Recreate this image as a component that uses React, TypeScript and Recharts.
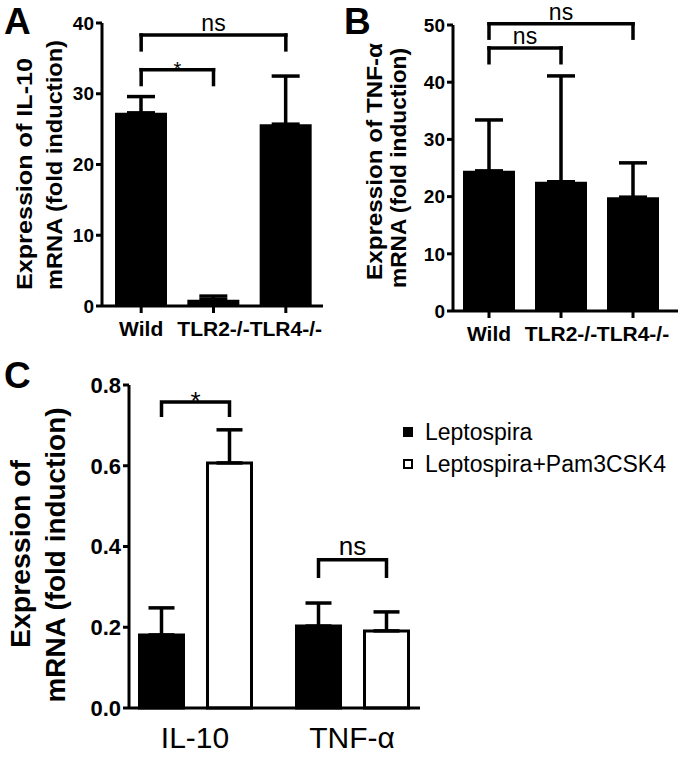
import React from "react";
import {
  BarChart,
  Bar,
  XAxis,
  YAxis,
  ErrorBar,
  ReferenceLine,
  Legend,
  Rectangle,
} from "recharts";

const FONT = "'Liberation Sans', Arial, Helvetica, sans-serif";

// panel A - IL-10
const genotypes = ["Wild", "TLR2-/-", "TLR4-/-"];
const il10Mean = [27.3, 0.9, 25.7];
const il10Err = [2.3, 0.5, 6.8];
const il10Ticks = [0, 10, 20, 30, 40];

// panel B - TNF-a
const tnfMean = [24.5, 22.6, 19.9];
const tnfErr = [8.9, 18.5, 6.0];
const tnfTicks = [0, 10, 20, 30, 40, 50];

// panel C - Leptospira vs Leptospira+Pam3CSK4
const cytokines = ["IL-10", "TNF-α"];
const leptoMean = [0.181, 0.203];
const leptoErr = [0.067, 0.057];
const pamMean = [0.607, 0.191];
const pamErr = [0.082, 0.047];
const ratioTicks = [0, 0.2, 0.4, 0.6, 0.8];

type Bracket = { from: string; to: string; top: number; leg: number; text: string };

const bracketsA: Bracket[] = [
  { from: "Wild", to: "TLR4-/-", top: 38.3, leg: 36.2, text: "ns" },
  { from: "Wild", to: "TLR2-/-", top: 33.4, leg: 31.3, text: "*" },
];
const bracketsB: Bracket[] = [
  { from: "Wild", to: "TLR4-/-", top: 50.2, leg: 47.7, text: "ns" },
  { from: "Wild", to: "TLR2-/-", top: 46.0, leg: 43.4, text: "ns" },
];
// C: bracket joins the two bars inside each cytokine group
const bracketsC = [
  { top: 0.758, leg: 0.721, text: "*" },
  { top: 0.367, leg: 0.322, text: "ns" },
];

const dataA = genotypes.map((g, i) => ({ name: g, value: il10Mean[i], err: [0, il10Err[i]] }));
const dataB = genotypes.map((g, i) => ({ name: g, value: tnfMean[i], err: [0, tnfErr[i]] }));
const dataC = cytokines.map((c, i) => ({
  name: c,
  lepto: leptoMean[i],
  leptoErr: [0, leptoErr[i]],
  pam: pamMean[i],
  pamErr: [0, pamErr[i]],
}));

const BAR_C = 44;
const GAP_C = 24;

const axisStyle = { stroke: "#000", strokeWidth: 3 };

function SigText({ viewBox, text, size }: any) {
  if (!viewBox) return null;
  const cx = viewBox.x + viewBox.width / 2;
  const y = text === "*" ? viewBox.y + size * 0.3 : viewBox.y - 4;
  return (
    <text x={cx} y={y} textAnchor="middle" fontFamily={FONT} fontSize={size} fill="#000">
      {text}
    </text>
  );
}

function bracketLines(b: Bracket, size: number, key: string) {
  const line = {
    stroke: "#000",
    strokeWidth: 3.5,
    strokeLinecap: "square" as const,
    ifOverflow: "visible" as const,
  };
  return [
    <ReferenceLine key={key + "l"} segment={[{ x: b.from, y: b.leg }, { x: b.from, y: b.top }]} {...line} />,
    <ReferenceLine key={key + "r"} segment={[{ x: b.to, y: b.leg }, { x: b.to, y: b.top }]} {...line} />,
    <ReferenceLine
      key={key + "t"}
      segment={[{ x: b.from, y: b.top }, { x: b.to, y: b.top }]}
      {...line}
      label={<SigText text={b.text} size={size} />}
    />,
  ];
}

// two-line rotated y title; lens keeps the line lengths of the original figure
function AxisTitle({ lines, xs, ys, lens, size, anchor }: any) {
  return (
    <g>
      {lines.map((t: string, i: number) => (
        <text
          key={i}
          transform={`translate(${xs[i]},${ys[i]}) rotate(-90)`}
          textAnchor={anchor}
          textLength={lens[i]}
          lengthAdjust="spacingAndGlyphs"
          fontFamily={FONT}
          fontSize={size}
          fontWeight="bold"
          fill="#000"
        >
          {t}
        </text>
      ))}
    </g>
  );
}

function PamShape(props: any) {
  const { x, y, width, height, index, payload } = props;
  const b = bracketsC[index];
  const base = y + height;
  const ppu = height / payload.pam;
  const py = (v: number) => base - v * ppu;
  const right = x + width / 2;
  const left = right - (BAR_C + GAP_C);
  return (
    <g>
      <Rectangle x={x} y={y} width={width} height={height} fill="#fff" stroke="#000" strokeWidth={3} />
      {b && (
        <g>
          <path
            d={`M${left},${py(b.leg)}V${py(b.top)}H${right}V${py(b.leg)}`}
            fill="none"
            stroke="#000"
            strokeWidth={3.5}
          />
          <text
            x={(left + right) / 2}
            y={b.text === "*" ? py(b.top) + 26 * 0.3 : py(b.top) - 5}
            textAnchor="middle"
            fontFamily={FONT}
            fontSize={26}
            fill="#000"
          >
            {b.text}
          </text>
        </g>
      )}
    </g>
  );
}

function LegendBox({ payload }: any) {
  return (
    <div style={{ fontFamily: FONT, fontSize: 23, color: "#000" }}>
      {(payload || []).map((p: any) => (
        <div key={p.value} style={{ display: "flex", alignItems: "center", height: 32 }}>
          <span
            style={{
              width: 10,
              height: 10,
              boxSizing: "border-box",
              border: "2px solid #000",
              background: p.color,
              marginRight: 12,
            }}
          />
          <span>{p.value}</span>
        </div>
      ))}
    </div>
  );
}

const tickBold = (size: number) => ({ fill: "#000", fontSize: size, fontWeight: "bold", fontFamily: FONT });

export default function App() {
  return (
    <div style={{ position: "absolute", left: 0, top: 0, width: 680, height: 757, background: "#fff" }}>
      {/* A */}
      <div style={{ position: "absolute", left: 0, top: 0 }}>
        <BarChart width={340} height={345} data={dataA} margin={{ top: 23, right: 17, bottom: 9, left: 0 }}>
          <XAxis
            dataKey="name"
            height={30}
            interval={0}
            padding={{ left: 3, right: 1 }}
            axisLine={axisStyle}
            tickLine={axisStyle}
            tickSize={7}
            tickMargin={8}
            tick={tickBold(21)}
          />
          <YAxis
            width={102}
            domain={[0, 40]}
            ticks={il10Ticks}
            interval={0}
            axisLine={axisStyle}
            tickLine={axisStyle}
            tickSize={6}
            tickMargin={2}
            tick={tickBold(19)}
            label={
              <AxisTitle
                lines={["Expression of IL-10", "mRNA (fold induction)"]}
                xs={[32, 62]}
                ys={[290, 290]}
                lens={[232, 250]}
                size={22}
                anchor="start"
              />
            }
          />
          <Bar dataKey="value" fill="#000" barSize={52} isAnimationActive={false}>
            <ErrorBar dataKey="err" width={14} stroke="#000" strokeWidth={3.5} />
          </Bar>
          {bracketsA.flatMap((b, i) => bracketLines(b, b.text === "*" ? 20 : 23, "a" + i))}
        </BarChart>
      </div>

      {/* B */}
      <div style={{ position: "absolute", left: 340, top: 0 }}>
        <BarChart width={340} height={345} data={dataB} margin={{ top: 25, right: 2, bottom: 4, left: 0 }}>
          <XAxis
            dataKey="name"
            height={30}
            interval={0}
            padding={{ left: 0, right: 9 }}
            axisLine={axisStyle}
            tickLine={axisStyle}
            tickSize={7}
            tickMargin={8}
            tick={tickBold(21)}
          />
          <YAxis
            width={113}
            domain={[0, 50]}
            ticks={tnfTicks}
            interval={0}
            axisLine={axisStyle}
            tickLine={axisStyle}
            tickSize={6}
            tickMargin={2}
            tick={tickBold(19)}
            label={
              <AxisTitle
                lines={["Expression of TNF-α", "mRNA (fold induction)"]}
                xs={[42, 66]}
                ys={[280, 288]}
                lens={[237, 240]}
                size={22}
                anchor="start"
              />
            }
          />
          <Bar dataKey="value" fill="#000" barSize={52} isAnimationActive={false}>
            <ErrorBar dataKey="err" width={14} stroke="#000" strokeWidth={3.5} />
          </Bar>
          {bracketsB.flatMap((b, i) => bracketLines(b, 23, "b" + i))}
        </BarChart>
      </div>

      {/* C */}
      <div style={{ position: "absolute", left: 0, top: 340 }}>
        <BarChart
          width={680}
          height={417}
          data={dataC}
          barSize={BAR_C}
          barGap={GAP_C}
          margin={{ top: 45, right: 260, bottom: 4, left: 0 }}
        >
          <XAxis
            dataKey="name"
            height={45}
            interval={0}
            padding={{ left: -12.5, right: -10.5 }}
            axisLine={axisStyle}
            tickLine={false}
            tickSize={8}
            tickMargin={11}
            tick={{ fill: "#000", fontSize: 30, fontFamily: FONT }}
          />
          <YAxis
            width={129}
            domain={[0, 0.8]}
            ticks={ratioTicks}
            interval={0}
            tickFormatter={(v: number) => v.toFixed(1)}
            axisLine={axisStyle}
            tickLine={axisStyle}
            tickSize={6}
            tickMargin={2}
            tick={tickBold(22)}
            label={
              <AxisTitle
                lines={["Expression of", "mRNA (fold induction)"]}
                xs={[30, 65]}
                ys={[214, 215]}
                lens={[188, 295]}
                size={28}
                anchor="middle"
              />
            }
          />
          <Legend
            layout="vertical"
            align="center"
            verticalAlign="middle"
            content={<LegendBox />}
            wrapperStyle={{ left: 403, top: 76, width: 277 }}
          />
          <Bar dataKey="lepto" name="Leptospira" fill="#000" stroke="#000" strokeWidth={3} isAnimationActive={false}>
            <ErrorBar dataKey="leptoErr" width={13} stroke="#000" strokeWidth={3.5} />
          </Bar>
          <Bar
            dataKey="pam"
            name="Leptospira+Pam3CSK4"
            fill="#fff"
            stroke="#000"
            strokeWidth={3}
            shape={<PamShape />}
            isAnimationActive={false}
          >
            <ErrorBar dataKey="pamErr" width={13} stroke="#000" strokeWidth={3.5} />
          </Bar>
        </BarChart>
      </div>

      {/* panel letters */}
      <svg width={680} height={757} style={{ position: "absolute", left: 0, top: 0, pointerEvents: "none" }}>
        <g fontFamily={FONT} fontWeight="bold" fontSize={37} fill="#000">
          <text x={4} y={34}>A</text>
          <text x={344} y={34}>B</text>
          <text x={4} y={388}>C</text>
        </g>
      </svg>
    </div>
  );
}
